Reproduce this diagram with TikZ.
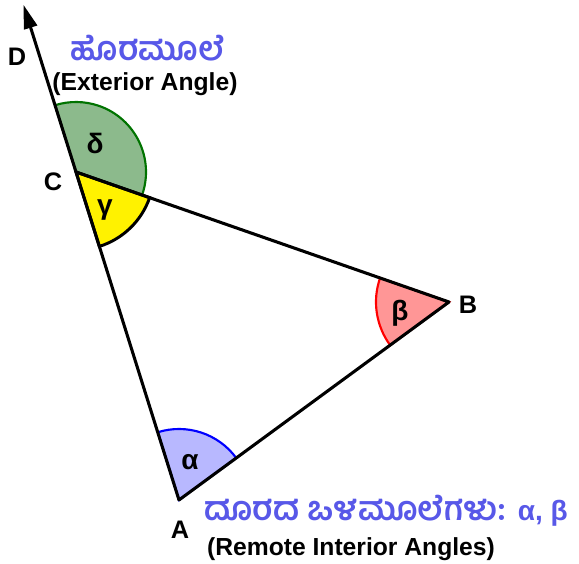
\documentclass[tikz,border=0pt]{standalone}
\usepackage{fontspec}
\setmainfont{Liberation Sans}
\newfontfamily\kanfont[Script=Kannada]{Hind Mysuru}
\usepackage{xcolor}
\usetikzlibrary{arrows.meta,calc}
\definecolor{kanBlue}{RGB}{88,88,232}
\definecolor{secGreen}{RGB}{140,186,140}
\definecolor{secBlue}{RGB}{184,184,255}
\definecolor{secRed}{RGB}{255,150,150}
\tikzset{
  aLine/.style={line width=2.3pt,line cap=round,line join=round},
  aSector/.style={line width=1.6pt},
  aVertex/.style={font=\fontsize{19}{22}\selectfont\bfseries,inner sep=0pt},
  aGreek/.style={font=\fontsize{21}{24}\selectfont\bfseries,inner sep=0pt},
  aNote/.style={font=\fontsize{18.5}{21}\selectfont\bfseries,inner sep=0pt},
  aKan/.style={font=\fontsize{25}{28}\selectfont\kanfont\bfseries,text=kanBlue,
        inner sep=0pt,anchor=base},
}

\begin{document}
\begin{tikzpicture}[x=0.75pt,y=0.75pt]
\useasboundingbox (0,0) rectangle (579,564);
\coordinate (A) at (179,64);
\coordinate (B) at (449,262);
\coordinate (C) at (76,392);
\coordinate (D) at ($(A)!1.51!(C)$);
% angle sectors
\filldraw[aSector,draw=green!45!black,fill=secGreen] (C) -- ++(-19.2:70) arc (-19.2:107.4:70) -- cycle;
\filldraw[aSector,draw=black,fill=yellow,line width=2.2pt] (C) -- ++(-72.6:78) arc (-72.6:-19.2:78) -- cycle;
\filldraw[aSector,draw=blue,fill=secBlue] (A) -- ++(36.3:71) arc (36.3:107.4:71) -- cycle;
\filldraw[aSector,draw=red,fill=secRed] (B) -- ++(160.8:73) arc (160.8:216.3:73) -- cycle;
% triangle
\draw[aLine] (C) -- (B) -- (A);
\draw[aLine,-{Triangle[length=18pt,width=10pt]}] (A) -- (D);
% vertex names
\node[aVertex] (lD) at (17,507) {D};
\node[aVertex] (lC) at (53,382) {C};
\node[aVertex] (lB) at (468,259) {B};
\node[aVertex] (lA) at (180,34) {A};
\node[aGreek] (delta) at (95,421) {δ};
\node[aGreek] (gamma) at (105,354) {γ};
\node[aGreek] (beta) at (400,251) {β};
\node[aGreek] (alpha) at (190,102) {α};
% notes
\node[aKan] (ext) at (148,503) {ಹೊರಮೂಲೆ};
\node[aNote] (extEn) at (145,480) {(Exterior Angle)};
\node[aKan] (rem) at (386,43) {ದೂರದ ಒಳಮೂಲೆಗಳು: {\normalfont\fontsize{21}{24}\selectfont\bfseries α, β}};
\node[aNote] (remEn) at (351,15) {(Remote Interior Angles)};
\end{tikzpicture}
\end{document}
